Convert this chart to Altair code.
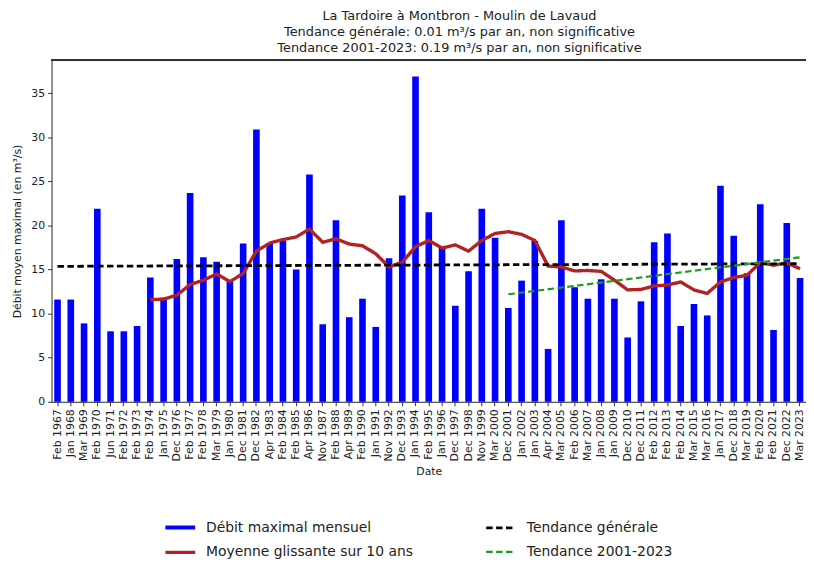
import altair as alt
import pandas as pd

dates = ["Feb 1967", "Jan 1968", "Mar 1969", "Feb 1970", "Jun 1971", "Feb 1972", "Feb 1973",
         "Feb 1974", "Jan 1975", "Dec 1976", "Feb 1977", "Feb 1978", "Mar 1979", "Jan 1980",
         "Dec 1981", "Dec 1982", "Apr 1983", "Feb 1984", "Feb 1985", "Apr 1986", "Nov 1987",
         "Feb 1988", "Apr 1989", "Feb 1990", "Jan 1991", "Nov 1992", "Dec 1993", "Jan 1994",
         "Feb 1995", "Jan 1996", "Dec 1997", "Dec 1998", "Nov 1999", "Mar 2000", "Dec 2001",
         "Jan 2002", "Jan 2003", "Apr 2004", "Mar 2005", "Feb 2006", "Mar 2007", "Jan 2008",
         "Jan 2009", "Dec 2010", "Dec 2011", "Feb 2012", "Feb 2013", "Feb 2014", "Mar 2015",
         "Mar 2016", "Jan 2017", "Dec 2018", "Mar 2019", "Feb 2020", "Feb 2021", "Dec 2022",
         "Mar 2023"]

debit = [11.6, 11.6, 8.9, 21.9, 8.0, 8.0, 8.6, 14.1, 11.8, 16.2, 23.7, 16.4, 15.9, 13.7,
         17.95, 30.9, 17.95, 18.25, 15.0, 25.8, 8.8, 20.6, 9.6, 11.7, 8.5, 16.3, 23.4, 36.9,
         21.5, 17.45, 10.9, 14.8, 21.9, 18.6, 10.65, 13.75, 18.25, 6.0, 20.6, 13.0, 11.7, 13.9,
         11.7, 7.3, 11.4, 18.1, 19.1, 8.6, 11.1, 9.8, 24.5, 18.85, 14.6, 22.4, 8.15, 20.3, 14.05]

rolling_start = 7
rolling = [11.6, 11.65, 12.1, 13.3, 13.8, 14.5, 13.65, 14.55, 17.1, 18.0, 18.4, 18.7, 19.6,
           18.1, 18.5, 17.9, 17.7, 16.8, 15.3, 15.85, 17.6, 18.3, 17.45, 17.8, 17.1, 18.3,
           19.1, 19.3, 19.0, 18.3, 15.4, 15.3, 14.85, 14.9, 14.8, 13.8, 12.7, 12.75, 13.15,
           13.25, 13.6, 12.7, 12.3, 13.6, 14.1, 14.35, 15.8, 15.5, 15.75, 15.1]

trend_gen_dates = ["Feb 1967", "Mar 2023"]
trend_gen_vals = [15.37, 15.67]
trend_rec_dates = ["Dec 2001", "Mar 2023"]
trend_rec_vals = [12.2, 16.4]

S_BAR = "Débit maximal mensuel"
S_ROLL = "Moyenne glissante sur 10 ans"
S_TG = "Tendance générale"
S_TR = "Tendance 2001-2023"

series_order = [S_BAR, S_ROLL, S_TG, S_TR]
series_colors = ["#0000ff", "#b22222", "#000000", "#1f9a1f"]
series_dash = [[1, 0], [1, 0], [6.5, 3.5], [6.5, 3.5]]
series_width = [4, 2.2, 2, 2.4]

FONT = "DejaVu Sans"
W = 762
H = 345
YMAX = 38.75

bars_df = pd.DataFrame({"Date": dates, "Valeur": debit})

rows = []
for i, v in enumerate(rolling):
    rows.append({"Date": dates[rolling_start + i], "Valeur": v, "Serie": S_ROLL,
                 "idx": rolling_start + i})
for d, v in zip(trend_gen_dates, trend_gen_vals):
    rows.append({"Date": d, "Valeur": v, "Serie": S_TG, "idx": dates.index(d)})
for d, v in zip(trend_rec_dates, trend_rec_vals):
    rows.append({"Date": d, "Valeur": v, "Serie": S_TR, "idx": dates.index(d)})
lines_df = pd.DataFrame(rows)

x_enc = alt.X("Date:N", sort=dates, title="Date",
              scale=alt.Scale(domain=dates, paddingInner=0.5, paddingOuter=0.2),
              axis=alt.Axis(labelAngle=270, labelFontSize=11, labelFont=FONT,
                            titleFontSize=11, titleFont=FONT, titleFontWeight="normal",
                            titleColor="#222", labelColor="#222",
                            tickSize=4, tickColor="#333", domainColor="#333",
                            labelPadding=3, titlePadding=4, labelOverlap=False,
                            grid=False))
y_enc = alt.Y("Valeur:Q", title="Débit moyen maximal (en m³/s)",
              scale=alt.Scale(domain=[0, YMAX], nice=False, zero=True),
              axis=alt.Axis(values=[0, 5, 10, 15, 20, 25, 30, 35], labelFontSize=11,
                            labelFont=FONT, titleFontSize=11, titleFont=FONT,
                            titleFontWeight="normal", titleColor="#222", labelColor="#222",
                            tickSize=4, tickColor="#333", domainColor="#333",
                            labelPadding=3, titlePadding=8, grid=False))

bars = alt.Chart(bars_df).mark_bar(color="#0000ff").encode(x=x_enc, y=y_enc)

legend = alt.Legend(orient="none", legendX=113, legendY=455, columns=2, title=None,
                    labelFontSize=14, labelFont=FONT, labelColor="#222",
                    symbolType="stroke", symbolSize=900, columnPadding=68,
                    rowPadding=-7, labelOffset=9, labelLimit=400)

lines = alt.Chart(lines_df).mark_line().encode(
    x=x_enc,
    y=y_enc,
    color=alt.Color("Serie:N", title=None,
                    scale=alt.Scale(domain=series_order, range=series_colors),
                    legend=legend),
    strokeDash=alt.StrokeDash("Serie:N", title=None,
                              scale=alt.Scale(domain=series_order, range=series_dash),
                              legend=legend),
    strokeWidth=alt.StrokeWidth("Serie:N", title=None,
                                scale=alt.Scale(domain=series_order, range=series_width),
                                legend=legend),
    order=alt.Order("idx:Q"),
)

frame_top = alt.Chart(bars_df).mark_rule(color="#333", strokeWidth=1).encode(
    x=alt.value(0), x2=alt.value(W), y=alt.value(0))

chart = alt.layer(bars, lines, frame_top).properties(
    width=W, height=H,
    title=alt.TitleParams(
        text=["La Tardoire à Montbron - Moulin de Lavaud",
              "Tendance générale: 0.01 m³/s par an, non significative",
              "Tendance 2001-2023: 0.19 m³/s par an, non significative"],
        fontSize=13, font=FONT, fontWeight="normal", color="#222",
        anchor="middle", lineHeight=16, offset=5, dx=31),
    padding={"left": 44, "top": 50, "right": 0, "bottom": 158},
    autosize=alt.AutoSizeParams(type="none"),
).configure_view(stroke=None).configure(background="white")

chart.save("out.html", embed_options={"renderer": "svg", "actions": False})
